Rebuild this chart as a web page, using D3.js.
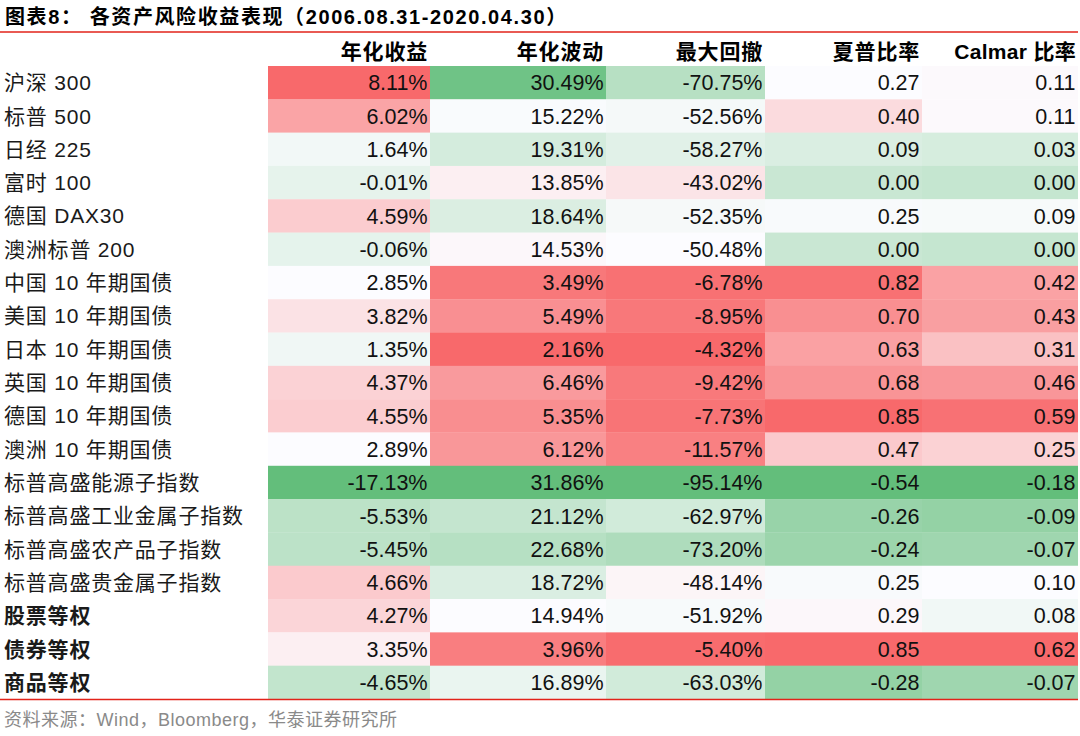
<!DOCTYPE html>
<html>
<head>
<meta charset="utf-8">
<script src="https://cdn.jsdelivr.net/npm/d3@7"></script>
<style>
  html, body { margin: 0; padding: 0; background: #fff; }
  svg { display: block; }
</style>
</head>
<body>
<svg id="chart" width="1080" height="736"></svg>
<script>
// ---------------- data ----------------
const titleText = "图表8： 各资产风险收益表现（2006.08.31-2020.04.30）";
const sourceText = "资料来源：Wind，Bloomberg，华泰证券研究所";
const categories = [
  "沪深 300", "标普 500", "日经 225", "富时 100", "德国 DAX30", "澳洲标普 200",
  "中国 10 年期国债", "美国 10 年期国债", "日本 10 年期国债", "英国 10 年期国债",
  "德国 10 年期国债", "澳洲 10 年期国债", "标普高盛能源子指数", "标普高盛工业金属子指数",
  "标普高盛农产品子指数", "标普高盛贵金属子指数", "股票等权", "债券等权", "商品等权"
];
const boldCategories = ["股票等权", "债券等权", "商品等权"];
const columnHeaders = ["年化收益", "年化波动", "最大回撤", "夏普比率", "Calmar 比率"];
const annualReturn = [8.11, 6.02, 1.64, -0.01, 4.59, -0.06, 2.85, 3.82, 1.35, 4.37, 4.55, 2.89, -17.13, -5.53, -5.45, 4.66, 4.27, 3.35, -4.65];
const annualVol = [30.49, 15.22, 19.31, 13.85, 18.64, 14.53, 3.49, 5.49, 2.16, 6.46, 5.35, 6.12, 31.86, 21.12, 22.68, 18.72, 14.94, 3.96, 16.89];
const maxDrawdown = [-70.75, -52.56, -58.27, -43.02, -52.35, -50.48, -6.78, -8.95, -4.32, -9.42, -7.73, -11.57, -95.14, -62.97, -73.20, -48.14, -51.92, -5.40, -63.03];
const sharpe = [0.27, 0.40, 0.09, 0.00, 0.25, 0.00, 0.82, 0.70, 0.63, 0.68, 0.85, 0.47, -0.54, -0.26, -0.24, 0.25, 0.29, 0.85, -0.28];
const calmar = [0.11, 0.11, 0.03, 0.00, 0.09, 0.00, 0.42, 0.43, 0.31, 0.46, 0.59, 0.25, -0.18, -0.09, -0.07, 0.10, 0.08, 0.62, -0.07];

// ---------------- layout ----------------
const W = 1080, H = 736;
const colEdges = [268, 430, 606, 765, 922, 1078];
const tableTop = 66, tableBottom = 699;
const GREEN = "#63BE7B", WHITE = "#FCFCFF", RED = "#F8696B";
const numFont = "'Liberation Sans', Arial, sans-serif";
const cjkFont = "'Liberation Sans', Arial, 'Noto Sans CJK SC', sans-serif";

const columns = [
  { key: "ret", values: annualReturn, fmt: v => v.toFixed(2) + "%", reverse: false },
  { key: "vol", values: annualVol, fmt: v => v.toFixed(2) + "%", reverse: true },
  { key: "mdd", values: maxDrawdown, fmt: v => v.toFixed(2) + "%", reverse: false },
  { key: "sharpe", values: sharpe, fmt: v => v.toFixed(2), reverse: false },
  { key: "calmar", values: calmar, fmt: v => v.toFixed(2), reverse: false }
];

const svg = d3.select("#chart");

const y = d3.scaleBand().domain(categories).range([tableTop, tableBottom]).paddingInner(0).paddingOuter(0);
const xCol = d3.scaleOrdinal().domain(columns.map(c => c.key)).range(colEdges.slice(0, 5));
const xColEnd = d3.scaleOrdinal().domain(columns.map(c => c.key)).range(colEdges.slice(1));

// title
svg.append("text")
  .attr("x", 5).attr("y", 24)
  .attr("font-family", cjkFont)
  .attr("font-size", 20).attr("font-weight", "bold")
  .attr("letter-spacing", 1.6)
  .attr("fill", "#000")
  .text(titleText);

svg.append("line")
  .attr("x1", 0).attr("x2", 1078).attr("y1", 32).attr("y2", 32)
  .attr("stroke", "#E2231A").attr("stroke-width", 1.5);

// headers
columns.forEach((c, i) => {
  svg.append("text")
    .attr("x", xColEnd(c.key) - 2)
    .attr("y", 52)
    .attr("dy", "0.35em")
    .attr("text-anchor", "end")
    .attr("font-family", cjkFont)
    .attr("font-size", 21).attr("font-weight", "bold")
    .attr("letter-spacing", i === 4 ? 0.3 : 0.8)
    .attr("fill", "#000")
    .text(columnHeaders[i]);
});

// cells
columns.forEach(c => {
  const sorted = c.values.slice().sort(d3.ascending);
  const med = d3.quantile(sorted, 0.5);
  const ext = d3.extent(c.values);
  const color = d3.scaleLinear()
    .domain([ext[0], med, ext[1]])
    .range(c.reverse ? [RED, WHITE, GREEN] : [GREEN, WHITE, RED])
    .interpolate(d3.interpolateRgb)
    .clamp(true);
  const g = svg.append("g");
  g.selectAll("rect").data(c.values).join("rect")
    .attr("x", xCol(c.key))
    .attr("y", (d, i) => y(categories[i]))
    .attr("width", xColEnd(c.key) - xCol(c.key))
    .attr("height", y.bandwidth() + 0.3)
    .attr("fill", d => color(d));
  g.selectAll("text").data(c.values).join("text")
    .attr("x", xColEnd(c.key) - 2.5)
    .attr("y", (d, i) => y(categories[i]) + y.bandwidth() / 2)
    .attr("dy", "0.36em")
    .attr("text-anchor", "end")
    .attr("font-family", numFont)
    .attr("font-size", 21.5)
    .attr("fill", "#111")
    .text(d => c.fmt(d));
});

// row labels
svg.append("g").selectAll("text").data(categories).join("text")
  .attr("x", 4)
  .attr("y", d => y(d) + y.bandwidth() / 2)
  .attr("dy", "0.36em")
  .attr("font-family", cjkFont)
  .attr("font-size", 21)
  .attr("font-weight", d => boldCategories.includes(d) ? "bold" : "normal")
  .attr("letter-spacing", 0.8)
  .attr("fill", "#1a1a1a")
  .text(d => d);

// bottom line
svg.append("line")
  .attr("x1", 0).attr("x2", 1078).attr("y1", tableBottom + 0.5).attr("y2", tableBottom + 0.5)
  .attr("stroke", "#E2231A").attr("stroke-width", 1.5);

// source
svg.append("text")
  .attr("x", 4).attr("y", 720)
  .attr("dy", "0.35em")
  .attr("font-family", cjkFont)
  .attr("font-size", 18)
  .attr("letter-spacing", 0.5)
  .attr("fill", "#8a8a8a")
  .text(sourceText);
</script>
</body>
</html>
